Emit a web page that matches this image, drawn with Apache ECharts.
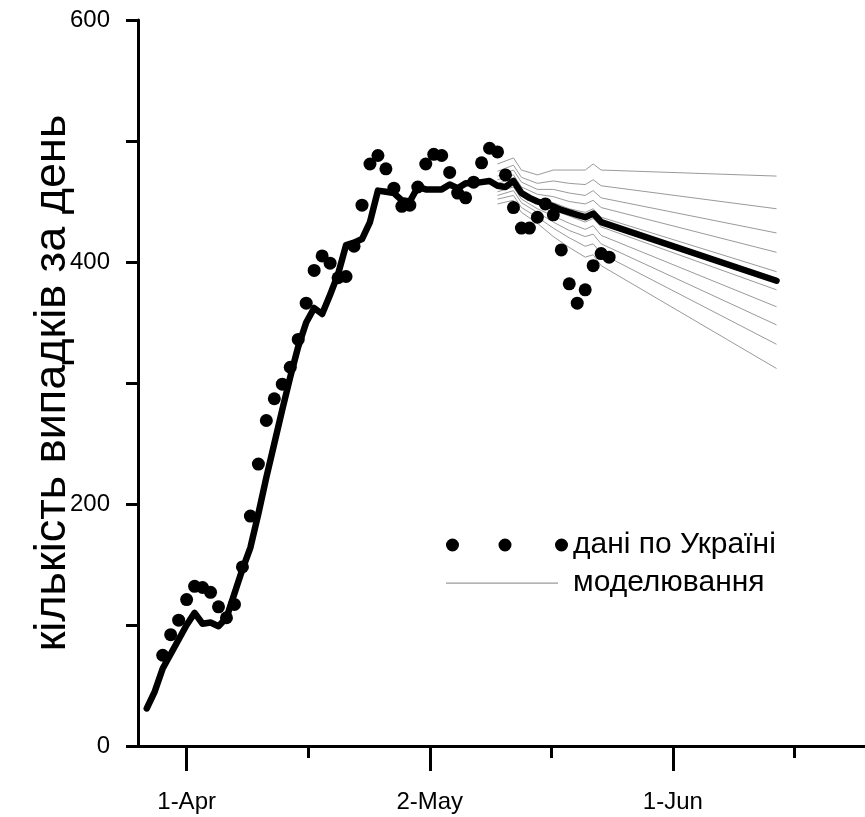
<!DOCTYPE html>
<html>
<head>
<meta charset="utf-8">
<script src="https://cdn.jsdelivr.net/npm/echarts@6/dist/echarts.min.js"></script>
<style>
html,body{margin:0;padding:0;background:#fff;}
#chart{width:865px;height:817px;}
</style>
</head>
<body>
<div id="chart"></div>
<script>
// x values are days counted from 1-Apr (day 0)
const tickDays = [0, 30.5, 61];
const tickLabels = ['1-Apr', '2-May', '1-Jun'];
const minorTickDays = [15.25, 45.75, 76.25];
const yLabelValues = [0, 200, 400, 600];

// observed daily cases (Ukraine), starting at day -3 (29-Mar)
const obsStartDay = -3;
const obsValues = [75, 92, 104, 121, 132, 131, 127, 115, 106, 117,
  148, 190, 233, 269, 287, 299, 313, 336, 366, 393,
  405, 399, 387, 388, 413, 447, 481, 488, 477, 461,
  446, 447, 462, 481, 489, 488, 474, 457, 453, 466,
  482, 494, 491, 472, 445, 428, 428, 437, 448, 439,
  410, 382, 366, 377, 397, 407, 404];

// main model curve
const modelDays = [-5, -4, -3, -2, -1, 0, 1, 2, 3, 4, 5, 6, 7, 8, 9, 10, 11, 12, 13, 14,
  15, 16, 17, 18, 19, 20, 21, 22, 23, 24, 25, 26, 27, 28, 29, 30, 31, 32, 33, 34,
  35, 36, 37, 38, 39, 40, 41, 42, 43, 44, 45, 46, 47, 48, 49, 50, 51, 52, 74];
const modelValues = [31, 45, 64, 76, 88, 100, 110, 101, 102, 99, 106, 126, 146, 164, 192, 222, 250, 278, 305, 330,
  350, 362, 357, 373, 390, 414, 416, 419, 433, 459, 458, 457, 451, 450, 462, 460, 460, 460, 464, 461,
  465, 465, 466, 467, 463, 462, 467, 457, 453, 450, 448, 446, 443, 441, 439, 437, 440, 433, 384.5];

// simulation fan
const fanDays = [39, 41, 42, 44, 46, 48, 50, 51, 52, 74];
const fan1  = [481, 486, 476, 472, 476, 476, 476, 481, 476, 471];
const fan2  = [475, 480, 470, 465, 467, 465, 464, 468, 463, 444];
const fan3  = [471, 476, 466, 460, 460, 457, 455, 459, 453, 424];
const fan4  = [468, 472, 462, 456, 454, 450, 448, 451, 445, 408];
const fan5  = [465, 469, 459, 452, 449, 444, 441, 444, 437, 392];
const fan6  = [461, 465, 455, 448, 443, 438, 433, 436, 429, 377];
const fan7  = [458, 462, 452, 444, 438, 432, 427, 430, 422, 363];
const fan8  = [455, 459, 449, 441, 433, 426, 421, 423, 415, 348];
const fan9  = [452, 455, 445, 437, 428, 420, 413, 415, 407, 332];
const fan10 = [448, 451, 441, 432, 421, 412, 404, 406, 397, 312];
const fans = [fan1, fan2, fan3, fan4, fan5, fan6, fan7, fan8, fan9, fan10];

const obsName = 'дані по Україні';
const simName = 'моделювання';
const yTitle = 'кількість випадків за день';

const chart = echarts.init(document.getElementById('chart'), null, {renderer: 'canvas'});

const obsData = obsValues.map((v, i) => [obsStartDay + i, v]);
const modelData = modelDays.map((d, i) => [d, modelValues[i]]);

const series = [];
fans.forEach((f) => {
  series.push({
    name: simName,
    type: 'line',
    data: fanDays.map((d, i) => [d, f[i]]),
    showSymbol: false,
    symbol: 'none',
    lineStyle: {color: '#9a9a9a', width: 1},
    itemStyle: {color: '#9a9a9a', borderWidth: 0},
    z: 2,
    silent: true
  });
});
series.push({
  name: 'model',
  type: 'line',
  data: modelData,
  showSymbol: false,
  symbol: 'none',
  lineStyle: {color: '#000', width: 6.5, join: 'round', cap: 'round'},
  itemStyle: {color: '#000'},
  z: 3,
  silent: true
});
series.push({
  name: obsName,
  type: 'scatter',
  data: obsData,
  symbol: 'circle',
  symbolSize: 13,
  itemStyle: {color: '#000', opacity: 1},
  z: 4,
  silent: true
});

const dotsIcon = 'path://M0,6.5 A6.5,6.5 0 1,0 13,6.5 A6.5,6.5 0 1,0 0,6.5 Z ' +
  'M52.5,6.5 A6.5,6.5 0 1,0 65.5,6.5 A6.5,6.5 0 1,0 52.5,6.5 Z ' +
  'M109,6.5 A6.5,6.5 0 1,0 122,6.5 A6.5,6.5 0 1,0 109,6.5 Z';
const lineIcon = 'path://M0,0 M0,6 L112,6 L112,7.3 L0,7.3 Z M122,13';

const option = {
  animation: false,
  backgroundColor: '#fff',
  grid: {left: 138, right: 0, top: 20, bottom: 71, containLabel: false},
  legend: {
    left: 441,
    top: 525,
    orient: 'vertical',
    itemWidth: 122,
    itemHeight: 13,
    itemGap: 8,
    selectedMode: false,
    textStyle: {fontFamily: 'Liberation Sans', fontSize: 30, color: '#000', lineHeight: 30},
    data: [
      {name: obsName, icon: dotsIcon, itemStyle: {color: '#000', borderWidth: 0, opacity: 1}},
      {name: simName, icon: lineIcon, itemStyle: {color: '#9a9a9a', borderWidth: 0}}
    ]
  },
  xAxis: [{
    type: 'value',
    min: -6.1,
    max: 85.1,
    position: 'bottom',
    axisLine: {show: true, onZero: false, lineStyle: {color: '#000', width: 3}},
    axisTick: {show: true, inside: false, length: 12, customValues: minorTickDays, lineStyle: {color: '#000', width: 3}},
    axisLabel: {
      show: true,
      customValues: tickDays,
      margin: 44,
      fontFamily: 'Liberation Sans',
      fontSize: 24,
      color: '#000',
      formatter: (v) => {
        const i = tickDays.findIndex(t => Math.abs(t - v) < 1e-6);
        return i >= 0 ? tickLabels[i] : '';
      }
    },
    splitLine: {show: false}
  }, {
    type: 'value',
    min: -6.1,
    max: 85.1,
    position: 'bottom',
    axisLine: {show: false, onZero: false},
    axisTick: {show: true, inside: false, length: 25, customValues: tickDays, lineStyle: {color: '#000', width: 3}},
    axisLabel: {show: false},
    splitLine: {show: false}
  }],
  yAxis: {
    type: 'value',
    min: 0,
    max: 600,
    interval: 100,
    name: yTitle,
    nameLocation: 'middle',
    nameRotate: 90,
    nameGap: 63,
    nameMoveOverlap: false,
    nameTextStyle: {fontFamily: 'Liberation Sans', fontSize: 45, color: '#000'},
    axisLine: {show: true, onZero: false, lineStyle: {color: '#000', width: 3}},
    axisTick: {show: true, inside: false, length: 12, lineStyle: {color: '#000', width: 3}},
    axisLabel: {
      show: true,
      customValues: yLabelValues,
      margin: 28,
      fontFamily: 'Liberation Sans',
      fontSize: 24,
      color: '#000'
    },
    splitLine: {show: false}
  },
  series: series
};
chart.setOption(option);
</script>
</body>
</html>
